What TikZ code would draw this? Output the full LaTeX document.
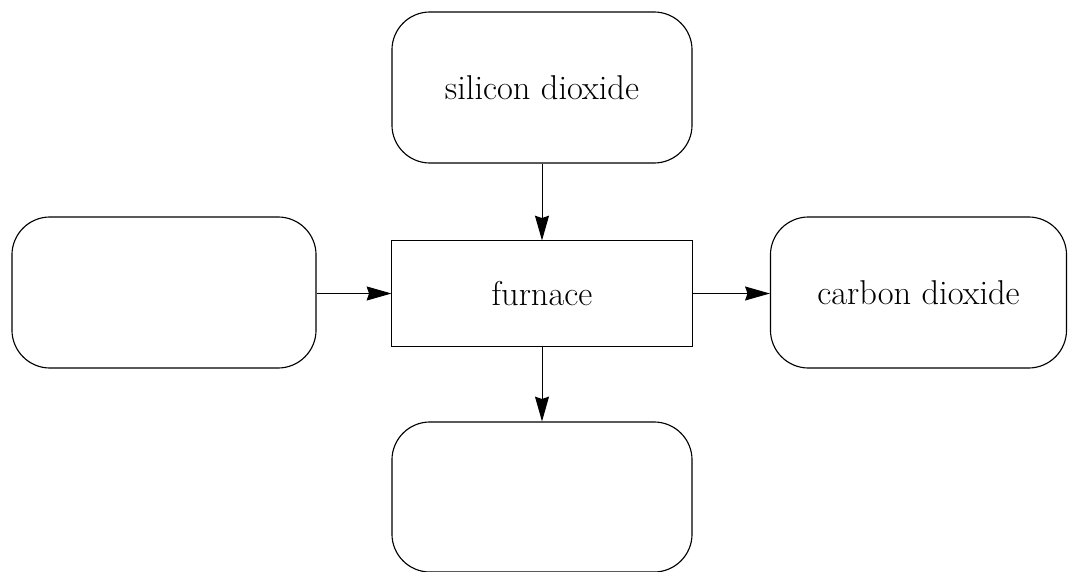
\documentclass[tikz,border=0pt]{standalone}
\usepackage{tikz}
\usetikzlibrary{arrows.meta,positioning}
\definecolor{LineMain}{HTML}{000000}
\tikzset{>={Stealth[length=6.2mm,width=3.5mm,inset=0.6mm]},every node/.style={font=\fontsize{24.5}{29}\selectfont},
 tank/.style={draw=LineMain,rounded corners=9.5mm,line width=0.8pt,align=center,inner sep=0pt},
 unit/.style={draw=LineMain,line width=0.7pt,align=center,inner sep=0pt},
 flow/.style={draw=LineMain,line width=0.7pt,->}}

\begin{document}
\begin{tikzpicture}[x=0.025cm,y=-0.025cm]
\useasboundingbox (0,0) rectangle (1068,572);
% furnace in the middle, four streams round it
\node[unit,minimum width=7.5cm,minimum height=2.625cm] (furnace) at (542,293.5){furnace};
\node[tank,minimum width=7.5cm,minimum height=3.775cm] (sio) at (542,87.5){silicon dioxide};
\node[tank,minimum width=7.6cm,minimum height=3.775cm] (feed) at (164,292.5){};
\node[tank,minimum width=7.4cm,minimum height=3.775cm] (cotwo) at (918.5,292.5){carbon dioxide};
\node[tank,minimum width=7.5cm,minimum height=3.75cm] (prod) at (542,497){};
\draw[flow] (sio.south)--(furnace.north);
\draw[flow] (feed.east|-furnace.west)--(furnace.west);
\draw[flow] (furnace.east)--(cotwo.west|-furnace.east);
\draw[flow] (furnace.south)--(prod.north);
\end{tikzpicture}
\end{document}
